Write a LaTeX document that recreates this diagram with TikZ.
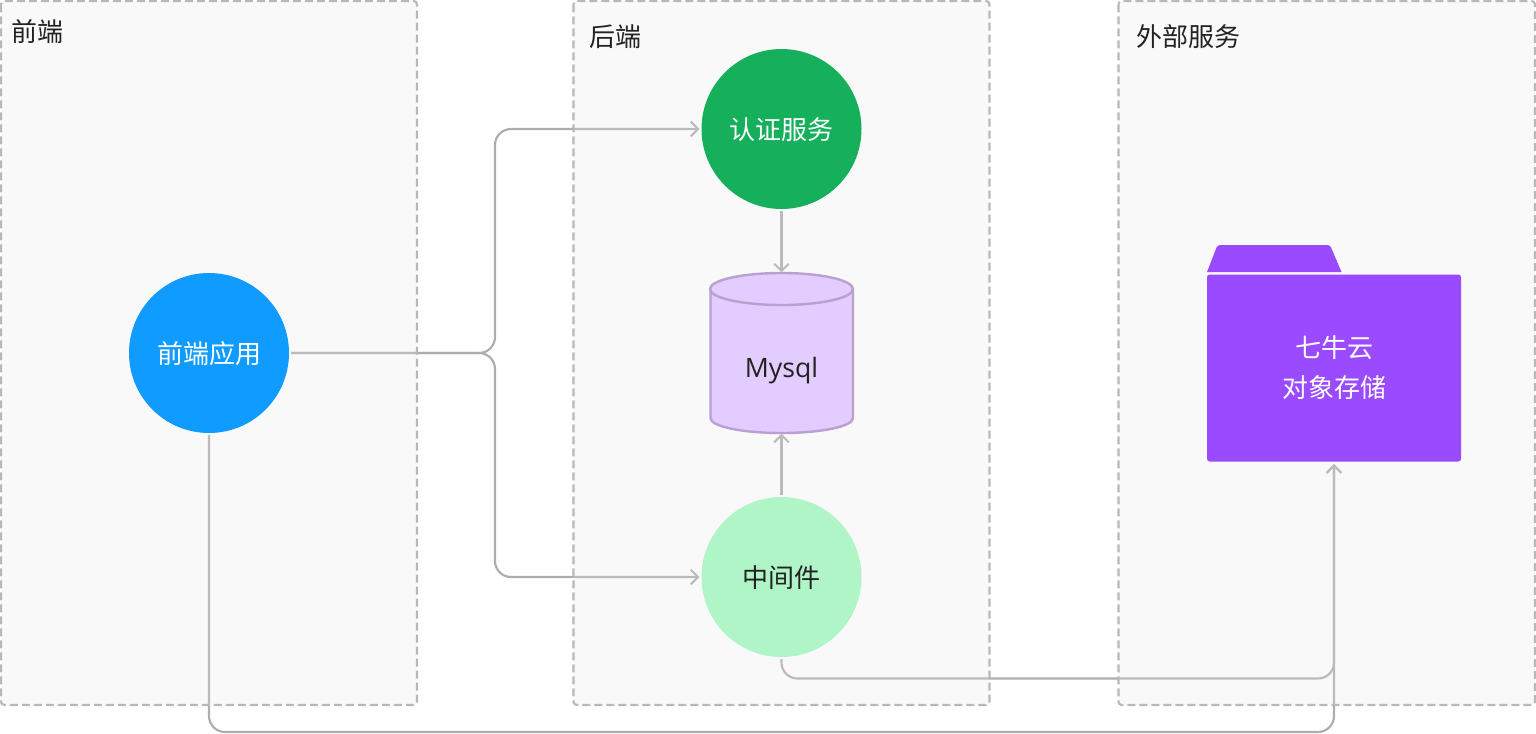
\documentclass[tikz,border=0pt]{standalone}
\usepackage{fontspec}
\setmainfont{Noto Sans CJK SC}
\newfontfamily\dbfont{Open Sans}
\usetikzlibrary{arrows.meta}
\definecolor{panelfill}{HTML}{E6E6E6}
\definecolor{panelline}{HTML}{B8B8B8}
\definecolor{connline}{HTML}{ADADAD}
\definecolor{appblue}{HTML}{0F9BFF}
\definecolor{authgreen}{HTML}{16B05C}
\definecolor{midgreen}{HTML}{AFF5C8}
\definecolor{storepurple}{HTML}{9A4BFF}
\definecolor{dbfill}{HTML}{E3CCFF}
\definecolor{dbline}{HTML}{B8A0D0}
\definecolor{inktext}{HTML}{222222}
\pgfdeclarelayer{connlayer}
\pgfdeclarelayer{panellayer}
\pgfsetlayers{connlayer,panellayer,main}
\tikzset{
	panel/.style={draw=panelline,fill=panelfill,fill opacity=0.25,line width=1.6pt,dash pattern=on 6pt off 3pt,rounded corners=2.5pt},
	paneltitle/.style={font=\fontsize{19.5pt}{24pt}\selectfont,text=inktext,inner sep=0pt},
	service/.style={circle,minimum size=120pt,inner sep=0pt,outer sep=1.5pt,font=\fontsize{19.5pt}{24pt}\selectfont,text=white,text height=17pt,text depth=0.8pt},
	conn/.style={draw=connline,line width=1.6pt,rounded corners=12pt,-{Straight Barb[length=5.5pt,width=11pt,line width=1.5pt]}}
}
\tikzset{every picture/.style={line width=0.75pt}}

\begin{document}
\begin{tikzpicture}[x=0.75pt,y=0.75pt,yscale=-1,xscale=1]
	\useasboundingbox (0,0) rectangle (1536,733);

	% panels
	\begin{pgfonlayer}{panellayer}
	\draw [panel] (1,1) rectangle (417,705);
	\draw [panel] (573.5,1) rectangle (989.5,705);
	\draw [panel] (1118.5,1) rectangle (1535,705);
	\end{pgfonlayer}
	\node [paneltitle] (fronttitle) at (38,32) {前端};
	\node [paneltitle] (backtitle) at (615.5,37) {后端};
	\node [paneltitle] (exttitle) at (1188,37) {外部服务};

	% Mysql cylinder
	\draw [draw=dbline,fill=dbfill,line width=1.8pt] (710.5,289) -- (710.5,418) .. controls (710.5,426.5) and (742,433) .. (781.5,433) .. controls (821,433) and (853,426.5) .. (853,418) -- (853,289) ;
	\draw [draw=dbline,fill=dbfill,line width=1.8pt] (781.5,289) ellipse (71.5 and 16);

	% nodes
	\node [service,fill=appblue] (app) at (209,353) {前端应用};
	\node [service,fill=authgreen] (auth) at (781.5,129) {认证服务};
	\node [service,fill=midgreen,text=inktext] (middleware) at (781.5,577) {中间件};
	\node [minimum width=107pt,minimum height=120pt,inner sep=0pt,outer sep=0.5pt] (mysql) at (781.5,353) {};
	\node [font=\dbfont\fontsize{20pt}{24pt}\selectfont,text=inktext,inner sep=0pt] (mysqltext) at (781.5,371) {Mysql};
	\node [fill=storepurple,rounded corners=2pt,minimum width=190.5pt,minimum height=140.25pt,inner sep=0pt,outer sep=2pt,align=center,font=\fontsize{19.5pt}{30pt}\selectfont,text=white] (store) at (1334,368) {七牛云\\对象存储};

	% folder tab
	\fill [storepurple] (1207,272) [rounded corners=1.5pt] -- (1217.5,245) -- (1330,245) [sharp corners] -- (1341.5,272) -- cycle;

	% bend points
	\coordinate (bendapp) at (495,353);
	\coordinate (bendmid) at (1334,678.5);
	\coordinate (bendlow) at (1334,732);

	% connectors
	\begin{pgfonlayer}{connlayer}
	\draw [conn] (app.east) -- (bendapp) |- (auth.west);
	\draw [conn] (app.east) -- (bendapp) |- (middleware.west);
	\draw [conn] (auth.south) -- (mysql.north);
	\draw [conn] (middleware.north) -- (mysql.south);
	\draw [conn] (middleware.south) |- (bendmid) -- (store.south);
	\draw [conn] (app.south) |- (bendlow) -- (store.south);
	\end{pgfonlayer}

\end{tikzpicture}
\end{document}
